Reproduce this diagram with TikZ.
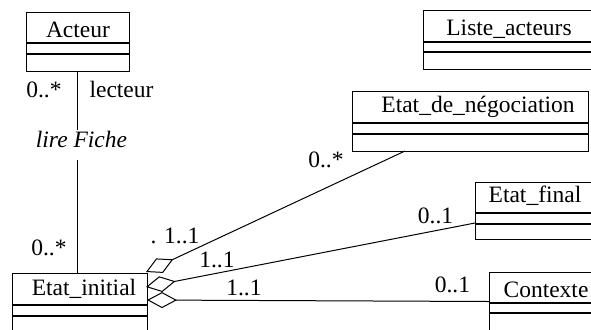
\documentclass[tikz,border=0pt]{standalone}
\usepackage{fontspec}
\setmainfont{Liberation Serif}
\usetikzlibrary{arrows.meta}
\newcommand\umlbox[7]{%
  \node[cls, minimum width={(#4-#2)*0.5pt}, minimum height={(#5-#3)*0.5pt}] (#1) at (#2,#3) {};
  \draw[divline] (#2,#6) -- (#4,#6);
  \draw[divline] (#2,#7) -- (#4,#7);}
\begin{document}
\begin{tikzpicture}[x=0.5pt,y=-0.5pt,
  cls/.style={draw, line width=0.65pt, rectangle, inner sep=0pt, anchor=north west},
  divline/.style={line width=0.65pt},
  ttl/.style={font=\fontsize{11.75}{14}\selectfont, anchor=base, inner sep=0pt},
  lbl/.style={font=\fontsize{11.75}{14}\selectfont, anchor=base, inner sep=0pt},
  agg/.style={{Diamond[open,length=15pt,width=8pt]}-, line width=0.5pt},
  assoc/.style={line width=0.5pt}]
\useasboundingbox (0,0) rectangle (591,329);
\clip (0,0) rectangle (591,329);

% classes
\umlbox{acteur}{26}{12}{129}{71}{43}{54}
\umlbox{liste}{423}{10}{600}{69}{42}{52}
\umlbox{nego}{352}{91}{588}{151}{123}{134}
\umlbox{final}{475}{182}{600}{239}{213}{224}
\umlbox{contexte}{489}{272}{610}{340}{303}{313}
\umlbox{init}{12}{273}{147}{340}{305}{316}

\node[ttl] (acteurT) at (78,37) {Acteur};
\node[ttl] (listeT) at (509,35) {Liste\_acteurs};
\node[ttl] (negoT) at (478,112) {Etat\_de\_négociation};
\node[ttl] (finalT) at (535,202) {Etat\_final};
\node[ttl] (contexteT) at (546,297) {Contexte};
\node[ttl] (initT) at (84,295) {Etat\_initial};

% association Acteur - Etat_initial
\node[lbl, font=\fontsize{11.75}{14}\selectfont\itshape] (lire) at (81.5,147) {lire Fiche};
\coordinate (g1) at (78,130);
\coordinate (g2) at (78,160);
\draw[assoc] (acteur.south -| g1) -- (g1);
\draw[assoc] (g2) -- (g2 |- init.north);
\node[lbl] (m1) at (44,97) {0..*};
\node[lbl] (role) at (121.5,97) {lecteur};
\node[lbl] (m2) at (49,255) {0..*};

% aggregations
\coordinate (a1) at (146,272);
\coordinate (a2) at (146,287);
\coordinate (a3) at (147,300);
\coordinate (n1) at (405,151);
\coordinate (f1) at (475,223);
\coordinate (c1) at (489,301.5);
\draw[agg] (a1) -- (n1);
\draw[agg] (a2) -- (f1);
\draw[agg] (a3) -- (c1);

\node[lbl] (m3) at (326,167) {0..*};
\node[lbl] (m4) at (175,243) {. 1..1};
\node[lbl] (m5) at (217,267) {1..1};
\node[lbl] (m6) at (244,295) {1..1};
\node[lbl] (m7) at (435.5,223) {0..1};
\node[lbl] (m8) at (452.5,292) {0..1};
\end{tikzpicture}
\end{document}
